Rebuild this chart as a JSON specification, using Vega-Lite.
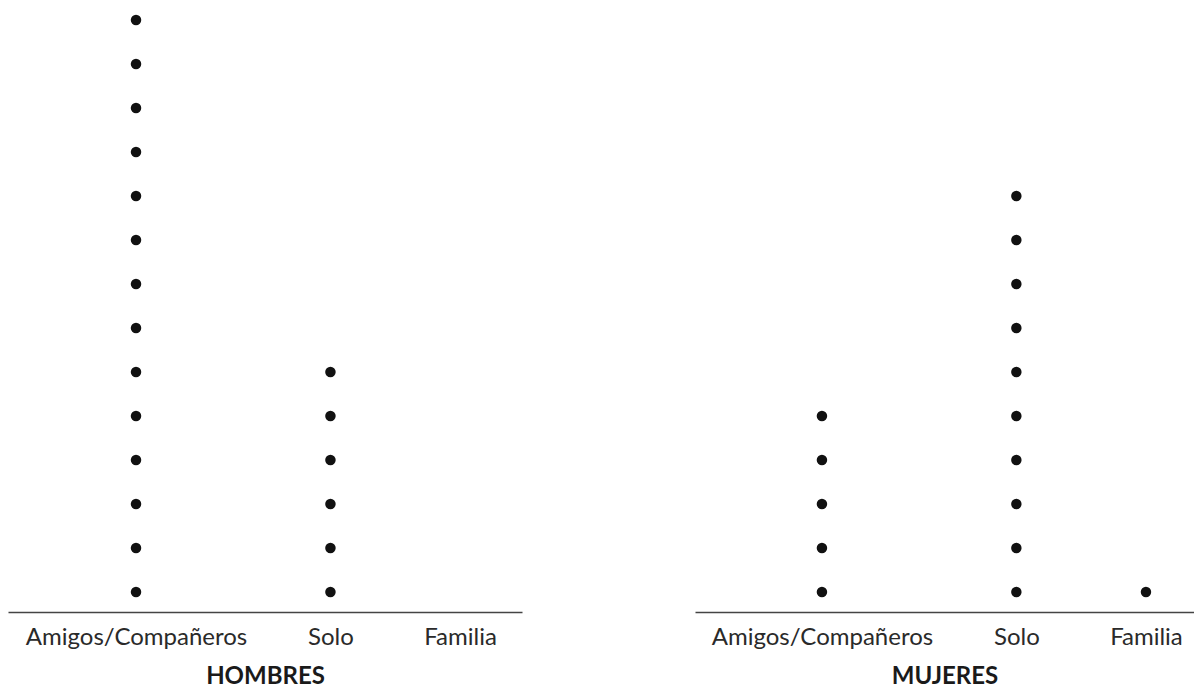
{
  "$schema": "https://vega.github.io/schema/vega-lite/v6.json",
  "padding": {"left": 8, "top": 8, "right": 0, "bottom": 0},
  "spacing": 173,
  "bounds": "flush",
  "background": "white",
  "config": {
    "view": {"stroke": null},
    "font": "Lato",
    "axis": {"labelFont": "Lato", "titleFont": "Lato"}
  },
  "data": {
    "values": [
      {"sexo": "HOMBRES", "lugar": "Amigos/Compañeros", "n": 1},
      {"sexo": "HOMBRES", "lugar": "Amigos/Compañeros", "n": 2},
      {"sexo": "HOMBRES", "lugar": "Amigos/Compañeros", "n": 3},
      {"sexo": "HOMBRES", "lugar": "Amigos/Compañeros", "n": 4},
      {"sexo": "HOMBRES", "lugar": "Amigos/Compañeros", "n": 5},
      {"sexo": "HOMBRES", "lugar": "Amigos/Compañeros", "n": 6},
      {"sexo": "HOMBRES", "lugar": "Amigos/Compañeros", "n": 7},
      {"sexo": "HOMBRES", "lugar": "Amigos/Compañeros", "n": 8},
      {"sexo": "HOMBRES", "lugar": "Amigos/Compañeros", "n": 9},
      {"sexo": "HOMBRES", "lugar": "Amigos/Compañeros", "n": 10},
      {"sexo": "HOMBRES", "lugar": "Amigos/Compañeros", "n": 11},
      {"sexo": "HOMBRES", "lugar": "Amigos/Compañeros", "n": 12},
      {"sexo": "HOMBRES", "lugar": "Amigos/Compañeros", "n": 13},
      {"sexo": "HOMBRES", "lugar": "Amigos/Compañeros", "n": 14},
      {"sexo": "HOMBRES", "lugar": "Solo", "n": 1},
      {"sexo": "HOMBRES", "lugar": "Solo", "n": 2},
      {"sexo": "HOMBRES", "lugar": "Solo", "n": 3},
      {"sexo": "HOMBRES", "lugar": "Solo", "n": 4},
      {"sexo": "HOMBRES", "lugar": "Solo", "n": 5},
      {"sexo": "HOMBRES", "lugar": "Solo", "n": 6},
      {"sexo": "MUJERES", "lugar": "Amigos/Compañeros", "n": 1},
      {"sexo": "MUJERES", "lugar": "Amigos/Compañeros", "n": 2},
      {"sexo": "MUJERES", "lugar": "Amigos/Compañeros", "n": 3},
      {"sexo": "MUJERES", "lugar": "Amigos/Compañeros", "n": 4},
      {"sexo": "MUJERES", "lugar": "Amigos/Compañeros", "n": 5},
      {"sexo": "MUJERES", "lugar": "Solo", "n": 1},
      {"sexo": "MUJERES", "lugar": "Solo", "n": 2},
      {"sexo": "MUJERES", "lugar": "Solo", "n": 3},
      {"sexo": "MUJERES", "lugar": "Solo", "n": 4},
      {"sexo": "MUJERES", "lugar": "Solo", "n": 5},
      {"sexo": "MUJERES", "lugar": "Solo", "n": 6},
      {"sexo": "MUJERES", "lugar": "Solo", "n": 7},
      {"sexo": "MUJERES", "lugar": "Solo", "n": 8},
      {"sexo": "MUJERES", "lugar": "Solo", "n": 9},
      {"sexo": "MUJERES", "lugar": "Solo", "n": 10},
      {"sexo": "MUJERES", "lugar": "Familia", "n": 1}
    ]
  },
  "hconcat": [
    {
      "width": 514,
      "height": 604,
      "transform": [{"filter": "datum.sexo === 'HOMBRES'"}],
      "mark": {"type": "circle", "size": 110, "color": "#111", "opacity": 1},
      "encoding": {
        "x": {
          "field": "lugar", "type": "nominal",
          "scale": {"type": "point", "domain": ["    ", "Amigos/Compañeros", " ", "  ", "Solo", "   ", "Familia"], "padding": 0.966, "align": 0.505},
          "axis": {"title": "HOMBRES", "labelAngle": 0, "ticks": false, "labelOverlap": false, "labelBound": false, "labelLimit": 0,
            "labelFontSize": 24, "labelColor": "#2a2a2a", "labelPadding": 13,
            "domainColor": "#444", "domainWidth": 1.5,
            "titleFontSize": 24, "titleFontWeight": "bold", "titleColor": "#1a1a1a", "titlePadding": 15, "grid": false}
        },
        "y": {
          "field": "n", "type": "quantitative",
          "scale": {"domain": [0.5455, 14.273], "nice": false, "zero": false},
          "axis": null
        }
      }
    },
    {
      "width": 499,
      "height": 604,
      "transform": [{"filter": "datum.sexo === 'MUJERES'"}],
      "mark": {"type": "circle", "size": 110, "color": "#111", "opacity": 1},
      "encoding": {
        "x": {
          "field": "lugar", "type": "nominal",
          "scale": {"type": "point", "domain": ["    ", "Amigos/Compañeros", " ", "  ", "Solo", "   ", "Familia"], "padding": 0.85, "align": 0.564},
          "axis": {"title": "MUJERES", "labelAngle": 0, "ticks": false, "labelOverlap": false, "labelBound": false, "labelLimit": 0,
            "labelFontSize": 24, "labelColor": "#2a2a2a", "labelPadding": 13,
            "domainColor": "#444", "domainWidth": 1.5,
            "titleFontSize": 24, "titleFontWeight": "bold", "titleColor": "#1a1a1a", "titlePadding": 15, "grid": false}
        },
        "y": {
          "field": "n", "type": "quantitative",
          "scale": {"domain": [0.5455, 14.273], "nice": false, "zero": false},
          "axis": null
        }
      }
    }
  ]
}
